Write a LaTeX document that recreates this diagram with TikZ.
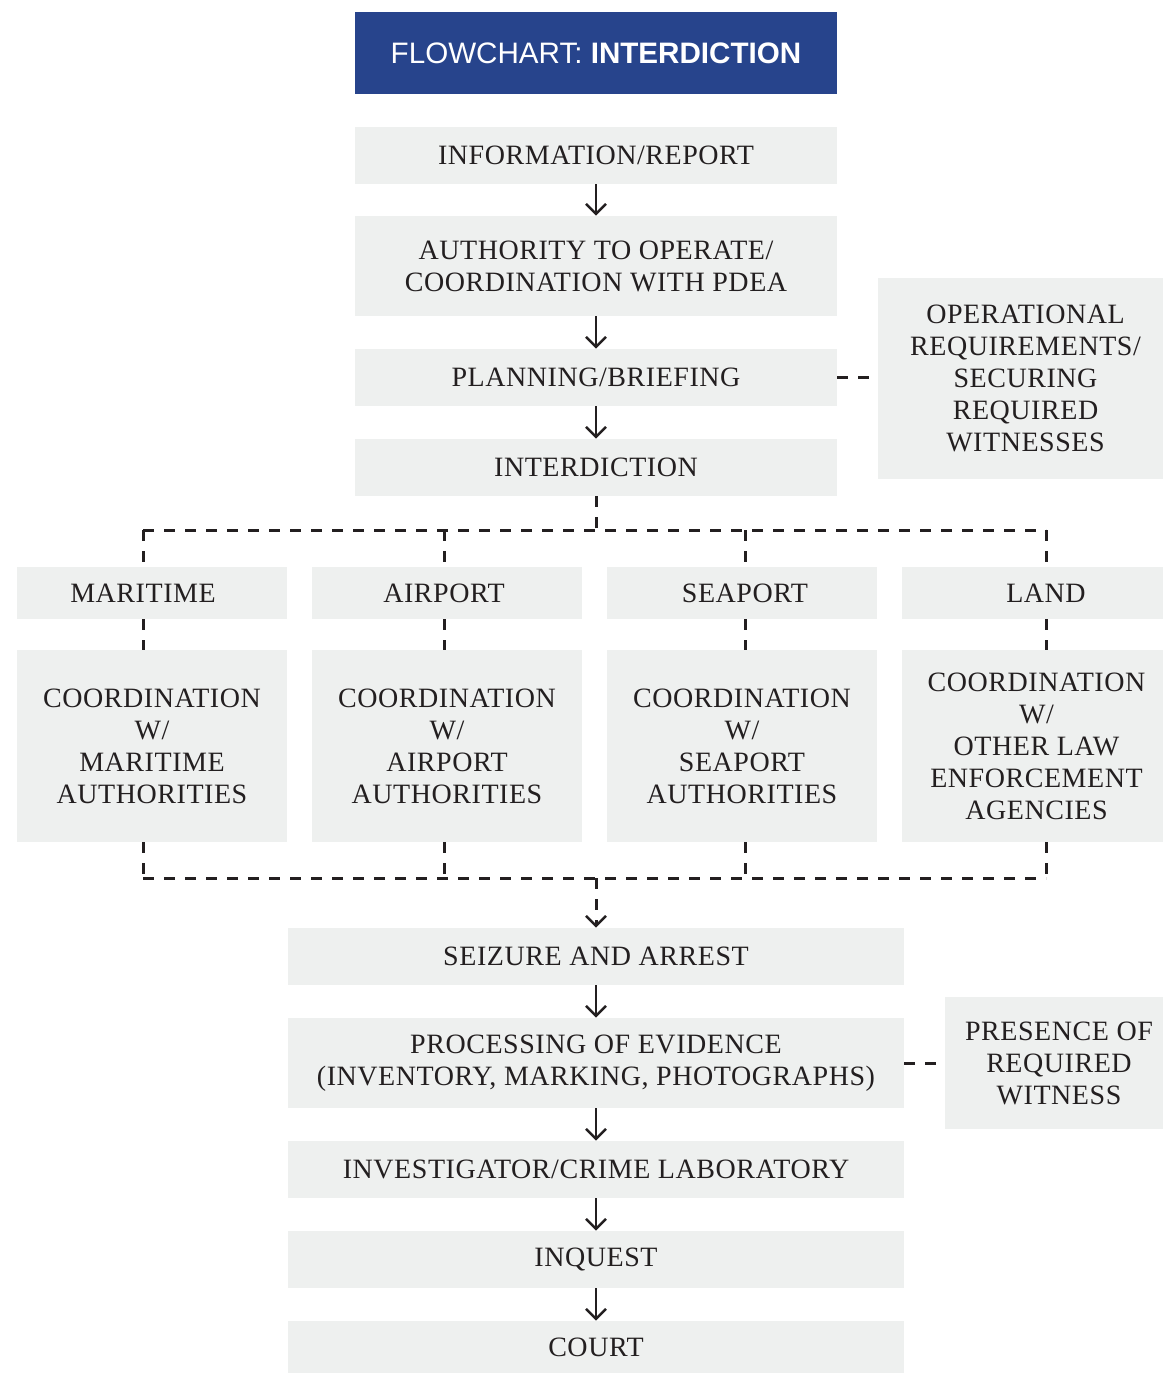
\documentclass[tikz,border=0pt]{standalone}
\usepackage{fontspec}
\setmainfont{Liberation Serif}[LetterSpace=2]
\newfontfamily\titlefont{Liberation Sans}
\usetikzlibrary{arrows.meta}
\definecolor{boxgray}{HTML}{EEF0EF}
\definecolor{titleblue}{HTML}{27448C}
\definecolor{txt}{HTML}{231F20}
\tikzset{
  gbox/.style={fill=boxgray, draw=none, inner sep=0pt, align=center, text=txt,
    font=\fontsize{14}{16}\selectfont},
  flowarrow/.style={draw=txt, line width=1.2pt, -{Straight Barb[length=5pt,width=10pt,line width=1.2pt]}},
  dashline/.style={draw=txt, line width=1.5pt, dash pattern=on 5.5pt off 5pt},
}
\begin{document}
\begin{tikzpicture}[x=0.5pt,y=-0.5pt]
\useasboundingbox (0,0) rectangle (1163,1373);
% title
\node[fill=titleblue, inner sep=0pt, minimum width=241pt, minimum height=41pt, text=white,
  font=\titlefont\fontsize{14.8}{18}\selectfont] (title) at (596,53) {FLOWCHART: \textbf{INTERDICTION}};
% upper column
\node[gbox, minimum width=241pt, minimum height=28.5pt] (info) at (596,155.5) {INFORMATION/REPORT};
\node[gbox, minimum width=241pt, minimum height=50pt] (auth) at (596,266) {AUTHORITY TO OPERATE/\\COORDINATION WITH PDEA};
\node[gbox, minimum width=241pt, minimum height=28.5pt] (plan) at (596,377.5) {PLANNING/BRIEFING};
\node[gbox, minimum width=241pt, minimum height=28.5pt] (inter) at (596,467.5) {INTERDICTION};
\node[gbox, minimum width=142.5pt, minimum height=100.5pt] (oper) at (1020.5,378.5) {\hspace*{5pt}OPERATIONAL\\\hspace*{5pt}REQUIREMENTS/\\\hspace*{5pt}SECURING\\\hspace*{5pt}REQUIRED\\\hspace*{5pt}WITNESSES};
% row 1
\node[gbox, minimum width=135pt, minimum height=26pt] (mar) at (152,593) {MARITIME\hspace*{9pt}};
\node[gbox, minimum width=135pt, minimum height=26pt] (air) at (447,593) {AIRPORT\hspace*{3pt}};
\node[gbox, minimum width=135pt, minimum height=26pt] (sea) at (742,593) {\hspace*{3pt}SEAPORT};
\node[gbox, minimum width=130.5pt, minimum height=26pt] (land) at (1032.5,593) {\hspace*{13.5pt}LAND};
% row 2
\node[gbox, minimum width=135pt, minimum height=96pt] (cmar) at (152,746) {COORDINATION\\W/\\MARITIME\\AUTHORITIES};
\node[gbox, minimum width=135pt, minimum height=96pt] (cair) at (447,746) {COORDINATION\\W/\\AIRPORT\\AUTHORITIES};
\node[gbox, minimum width=135pt, minimum height=96pt] (csea) at (742,746) {COORDINATION\\W/\\SEAPORT\\AUTHORITIES};
\node[gbox, minimum width=130.5pt, minimum height=96pt] (cland) at (1032.5,746) {\hspace*{4pt}COORDINATION\\\hspace*{4pt}W/\\\hspace*{4pt}OTHER LAW\\\hspace*{4pt}ENFORCEMENT\\\hspace*{4pt}AGENCIES};
% lower column
\node[gbox, minimum width=308pt, minimum height=28.5pt] (seize) at (596,956.5) {SEIZURE AND ARREST};
\node[gbox, minimum width=308pt, minimum height=45pt] (proc) at (596,1063) {PROCESSING OF EVIDENCE\\(INVENTORY, MARKING, PHOTOGRAPHS)};
\node[gbox, minimum width=308pt, minimum height=28.5pt] (inv) at (596,1169.5) {INVESTIGATOR/CRIME LABORATORY};
\node[gbox, minimum width=308pt, minimum height=28.5pt] (inq) at (596,1259.5) {INQUEST};
\node[gbox, minimum width=308pt, minimum height=26pt] (court) at (596,1347) {COURT};
\node[gbox, minimum width=109pt, minimum height=66pt] (pres) at (1054,1063) {\hspace*{5pt}PRESENCE OF\\\hspace*{5pt}REQUIRED\\\hspace*{5pt}WITNESS};
% coordinates
\coordinate (t0) at (596,530);
\coordinate (t1) at (143,530);
\coordinate (t2) at (444,530);
\coordinate (t3) at (745,530);
\coordinate (t4) at (1046,530);
\coordinate (b0) at (596,878);
\coordinate (b1) at (143,878);
\coordinate (b2) at (444,878);
\coordinate (b3) at (745,878);
\coordinate (b4) at (1046,878);
% solid arrows
\draw[flowarrow] (info.south) -- (auth.north);
\draw[flowarrow] (auth.south) -- (plan.north);
\draw[flowarrow] (plan.south) -- (inter.north);
\draw[flowarrow] (seize.south) -- (proc.north);
\draw[flowarrow] (proc.south) -- (inv.north);
\draw[flowarrow] (inv.south) -- (inq.north);
\draw[flowarrow] (inq.south) -- (court.north);
% dashed side links
\draw[dashline] (plan.east) -- (oper.west |- plan.east);
\draw[dashline] (proc.east) -- (pres.west |- proc.east);
% top distribution
\draw[dashline] (inter.south) -- (t0);
\draw[dashline] (t1) -- (t4);
\draw[dashline] (t1) -- (t1 |- mar.north);
\draw[dashline] (t2) -- (t2 |- air.north);
\draw[dashline] (t3) -- (t3 |- sea.north);
\draw[dashline] (t4) -- (t4 |- land.north);
% between rows
\draw[dashline] (t1 |- mar.south) -- (t1 |- cmar.north);
\draw[dashline] (t2 |- air.south) -- (t2 |- cair.north);
\draw[dashline] (t3 |- sea.south) -- (t3 |- csea.north);
\draw[dashline] (t4 |- land.south) -- (t4 |- cland.north);
% bottom collection
\draw[dashline] (t1 |- cmar.south) -- (b1);
\draw[dashline] (t2 |- cair.south) -- (b2);
\draw[dashline] (t3 |- csea.south) -- (b3);
\draw[dashline] (t4 |- cland.south) -- (b4);
\draw[dashline] (b1) -- (b4);
\draw[dashline, -{Straight Barb[length=5pt,width=10pt,line width=1.2pt]}] (b0) -- (seize.north);
\end{tikzpicture}
\end{document}
